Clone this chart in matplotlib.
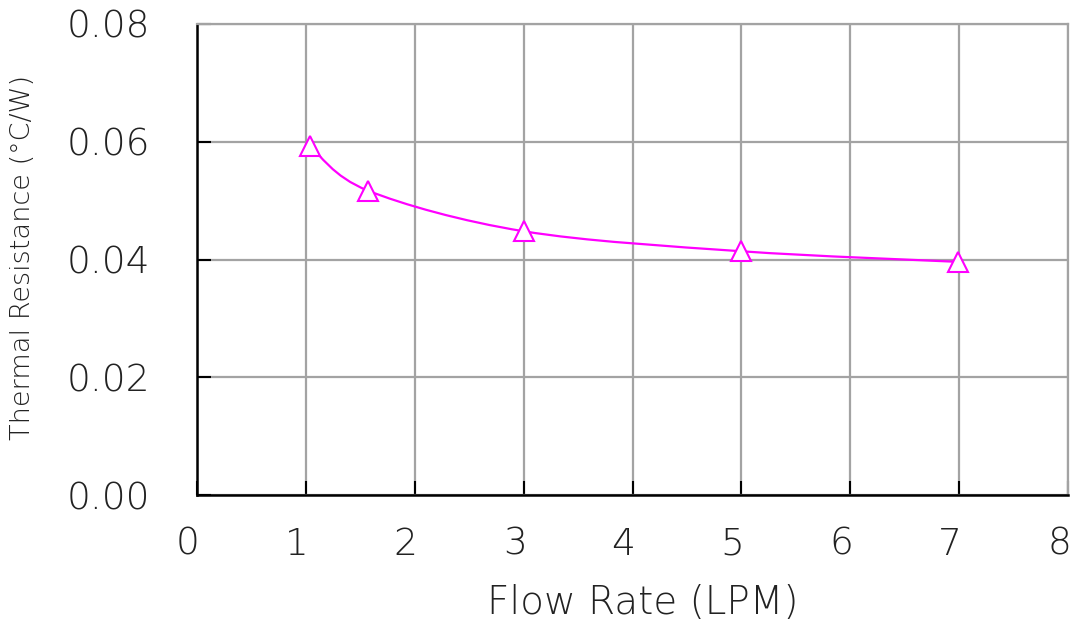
import matplotlib
matplotlib.use("Agg")
import matplotlib.pyplot as plt
import matplotlib.transforms as mtransforms
from matplotlib.path import Path
from matplotlib.patches import PathPatch
import numpy as np

# Data
flow_rate = [1.04, 1.57, 3.0, 5.0, 6.99]
thermal_resistance = [0.0592, 0.0517, 0.0448, 0.0414, 0.0396]
x_ticks = [0, 1, 2, 3, 4, 5, 6, 7, 8]
y_ticks = [0.00, 0.02, 0.04, 0.06, 0.08]
y_tick_labels = ["0.00", "0.02", "0.04", "0.06", "0.08"]

plt.rcParams['font.family'] = ['DejaVu Sans']

fig = plt.figure(figsize=(10.75, 6.24), dpi=100)
ax = fig.add_axes([197/1075, 1 - 495/624, (1068 - 197)/1075, (495 - 24)/624])

ax.set_xlim(0, 8)
ax.set_ylim(0, 0.08)
ax.set_xticks(x_ticks)
ax.set_yticks(y_ticks)
ax.set_yticklabels(y_tick_labels)

grid_color = '#a3a3a3'
ax.grid(True, color=grid_color, linewidth=1.6)
ax.set_axisbelow(True)
for s in ['top', 'right']:
    ax.spines[s].set_color(grid_color)
    ax.spines[s].set_linewidth(1.6)
for s in ['left', 'bottom']:
    ax.spines[s].set_color('black')
    ax.spines[s].set_linewidth(1.8)

ax.tick_params(axis='both', direction='in', length=10, width=1.5, color='black',
               labelsize=27, labelcolor='#222222')
ax.tick_params(axis='y', pad=34)
ax.tick_params(axis='x', pad=23)
shift = mtransforms.ScaledTranslation(-9/100, 0, fig.dpi_scale_trans)
for lab in ax.get_xticklabels():
    lab.set_fontweight('light')
    lab.set_transform(lab.get_transform() + shift)
for lab in ax.get_yticklabels():
    lab.set_fontweight('light')

# Smooth line (Catmull-Rom style Bezier through the data points)
pts = np.column_stack([flow_rate, thermal_resistance])
verts = [tuple(pts[0])]
codes = [Path.MOVETO]
n = len(pts)
for i in range(n - 1):
    p0 = pts[i - 1] if i > 0 else pts[i]
    p1 = pts[i]
    p2 = pts[i + 1]
    p3 = pts[i + 2] if i + 2 < n else pts[i + 1]
    c1 = p1 + (p2 - p0) / 6.0
    c2 = p2 - (p3 - p1) / 6.0
    verts += [tuple(c1), tuple(c2), tuple(p2)]
    codes += [Path.CURVE4, Path.CURVE4, Path.CURVE4]
patch = PathPatch(Path(verts, codes), facecolor='none', edgecolor='#ff00ff',
                  linewidth=1.6, zorder=3)
ax.add_patch(patch)

ax.plot(flow_rate, thermal_resistance, linestyle='none', marker='^',
        markersize=14, markerfacecolor='white', markeredgecolor='#ff00ff',
        markeredgewidth=1.5, zorder=4, clip_on=False)

ax.set_xlabel("Flow Rate (LPM)", fontsize=28, fontweight='light', color='#222222')
ax.xaxis.set_label_coords((643 - 197)/871, -0.19)
ax.set_ylabel("Thermal Resistance (\u00b0C/W)", fontsize=19.5, fontweight='light',
              color='#222222')
ax.yaxis.set_label_coords(-0.186, 0.505)

fig.savefig("out.png", dpi=100)
